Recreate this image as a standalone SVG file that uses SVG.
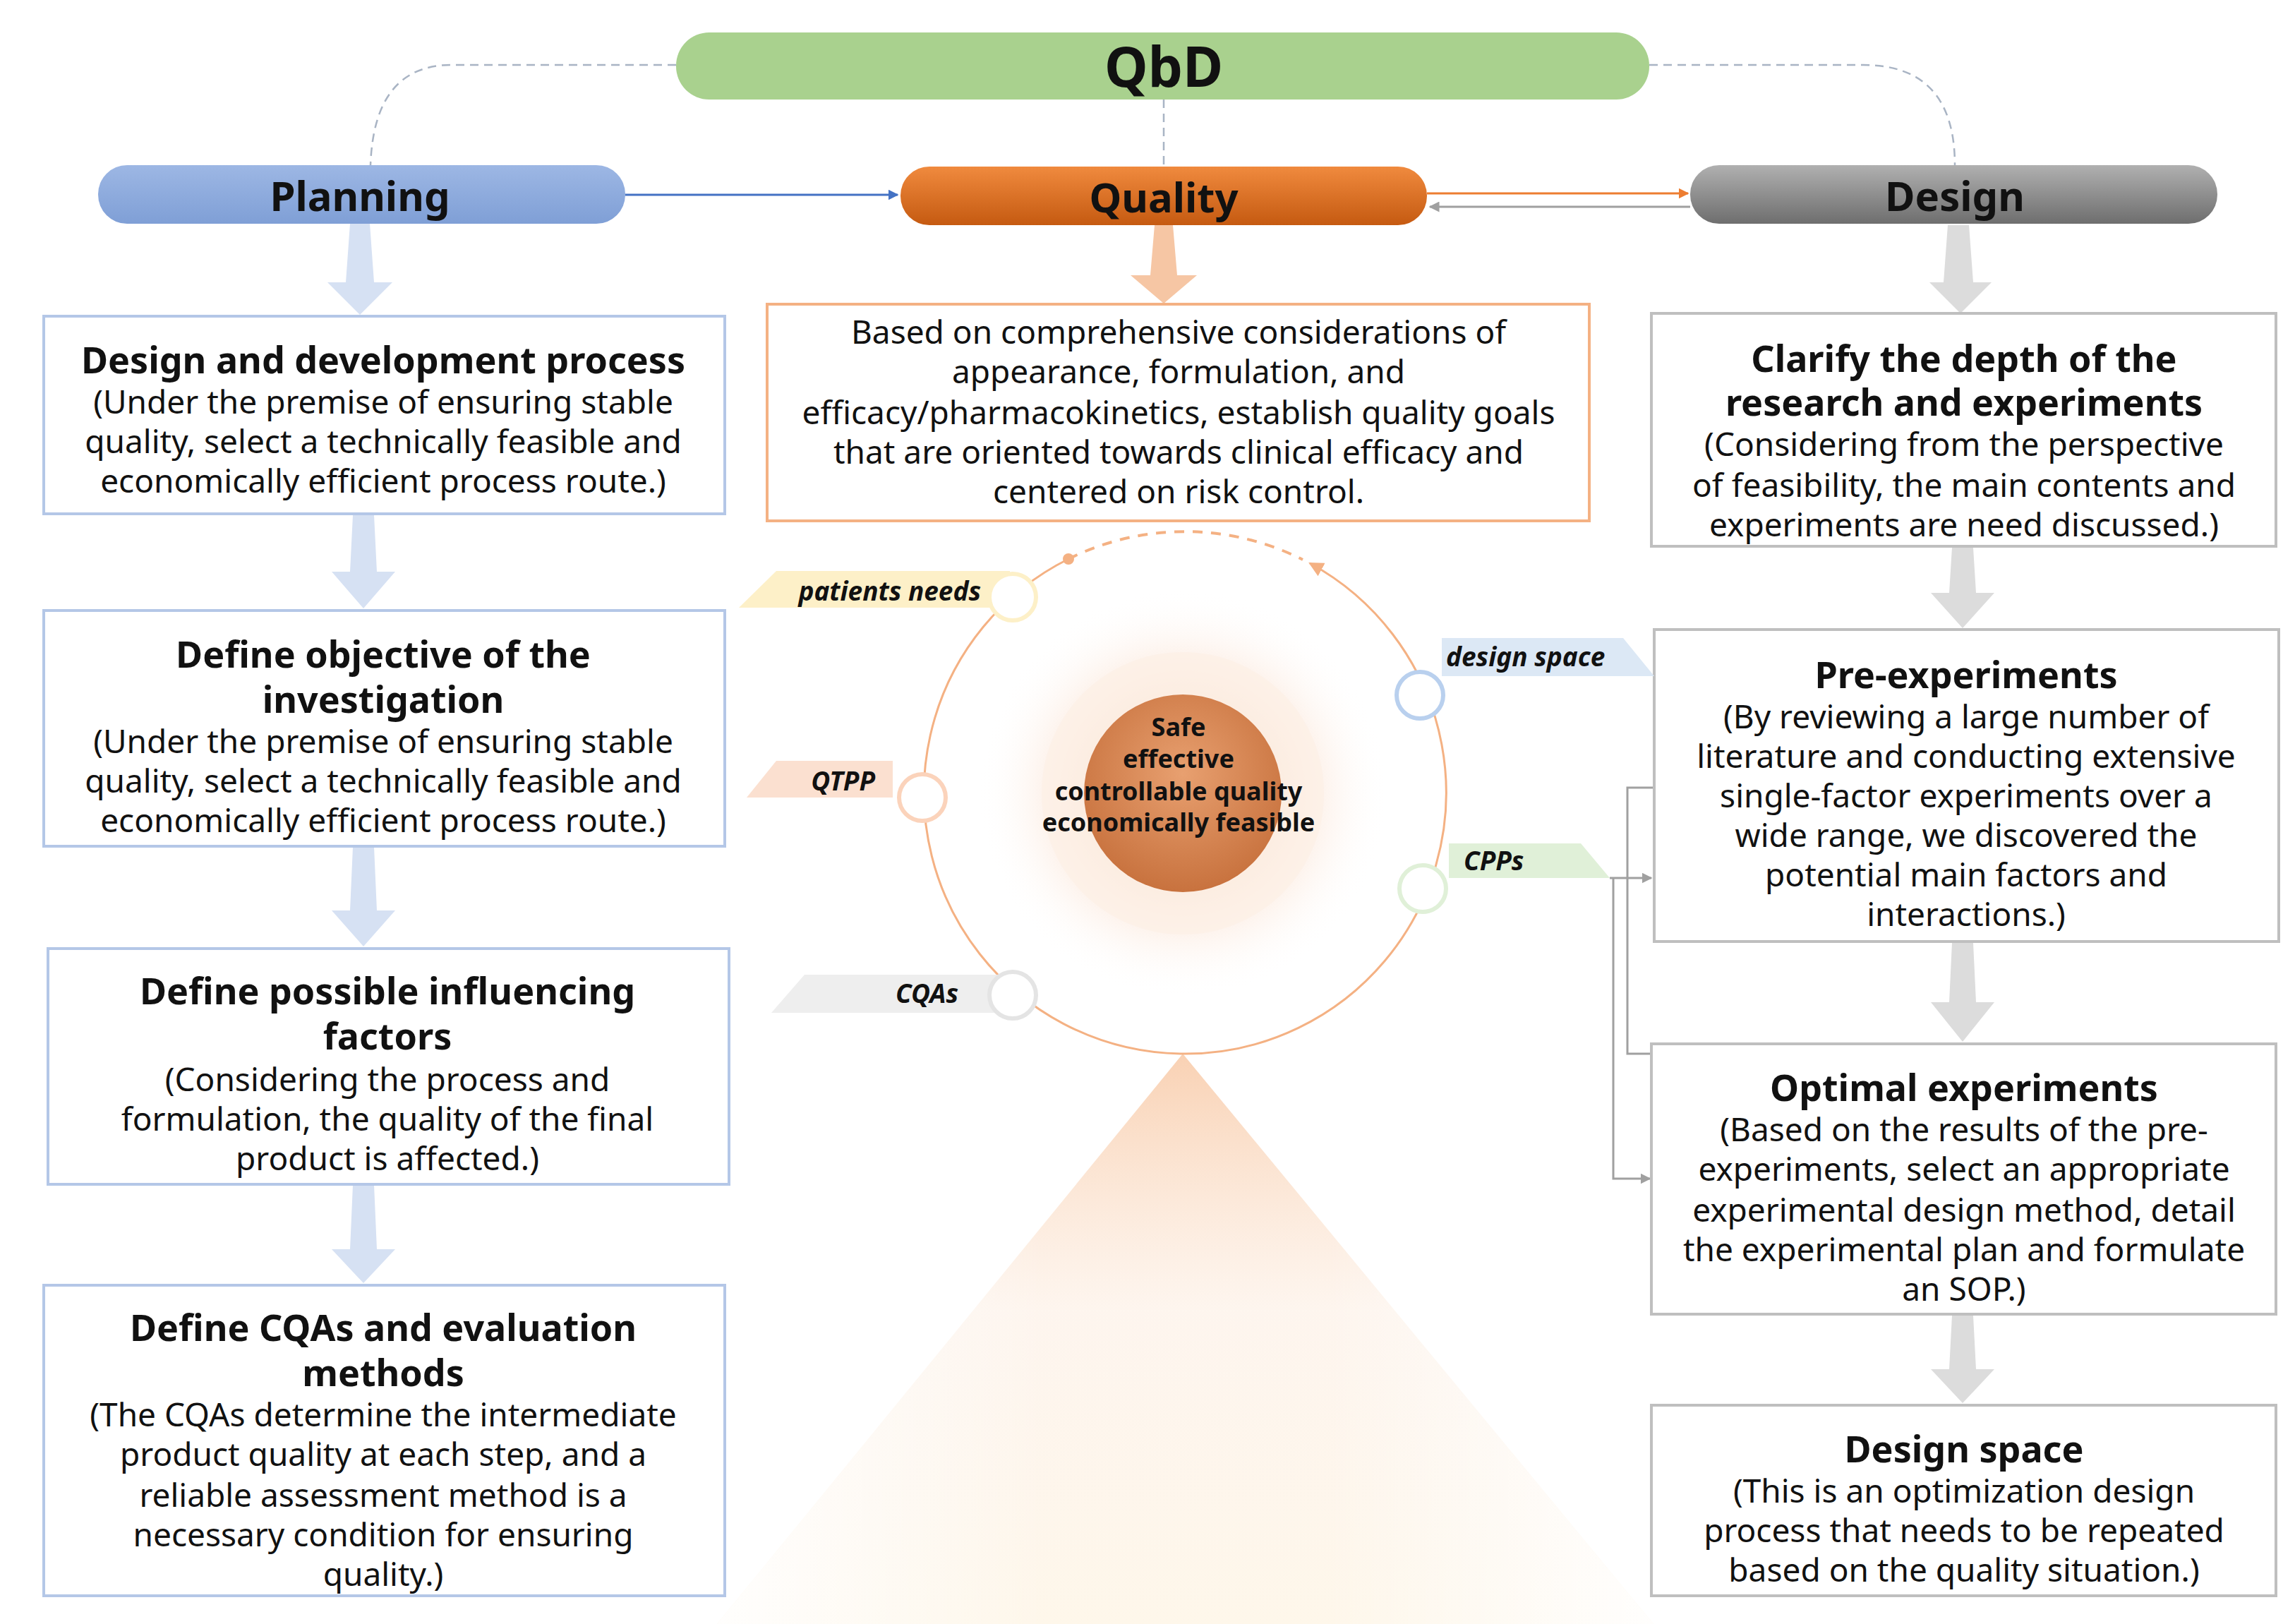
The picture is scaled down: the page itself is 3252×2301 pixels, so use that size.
<svg xmlns="http://www.w3.org/2000/svg" width="3252" height="2301" viewBox="0 0 3252 2301">
<defs>
<style>
text{font-family:"Noto Sans","Open Sans","DejaVu Sans",sans-serif;fill:#111;text-anchor:middle;dominant-baseline:central}
.t{font-size:52px;font-weight:bold}
.b{font-size:46px}
.pill{font-size:58px;font-weight:bold}
.tag{font-size:37px;font-weight:bold;font-style:italic}
.core{font-size:36px;font-weight:bold}
.bl{fill:#fff;stroke:#b4c7e7;stroke-width:4}
.br{fill:#fff;stroke:#bfbfbf;stroke-width:4}
.dash{fill:none;stroke:#a9b4c4;stroke-width:2.5;stroke-dasharray:12 8}
</style>
<linearGradient id="gq" x1="0" y1="0" x2="0" y2="1"><stop offset="0" stop-color="#f08a3e"/><stop offset="1" stop-color="#c55a11"/></linearGradient>
<linearGradient id="gd" x1="0" y1="0" x2="0" y2="1"><stop offset="0" stop-color="#b0b0b0"/><stop offset="1" stop-color="#6e6e6e"/></linearGradient>
<linearGradient id="gp" x1="0" y1="0" x2="0" y2="1"><stop offset="0" stop-color="#9db7e4"/><stop offset="1" stop-color="#7f9fd6"/></linearGradient>
<linearGradient id="tri" x1="0" y1="0" x2="0" y2="1"><stop offset="0" stop-color="#f8c9a6" stop-opacity="0.85"/><stop offset="0.45" stop-color="#fbe3cf" stop-opacity="0.35"/><stop offset="1" stop-color="#fdefd6" stop-opacity="0.5"/></linearGradient>
<linearGradient id="triH" x1="0" y1="0" x2="1" y2="0"><stop offset="0" stop-color="#fff" stop-opacity="0.9"/><stop offset="0.35" stop-color="#fff" stop-opacity="0"/><stop offset="0.65" stop-color="#fff" stop-opacity="0"/><stop offset="1" stop-color="#fff" stop-opacity="0.9"/></linearGradient>
<radialGradient id="core" cx="0.5" cy="0.4" r="0.6"><stop offset="0" stop-color="#e8a070"/><stop offset="1" stop-color="#c8723e"/></radialGradient>
<radialGradient id="glow"><stop offset="0.5" stop-color="#f9d6bf" stop-opacity="0.7"/><stop offset="1" stop-color="#fff" stop-opacity="0"/></radialGradient>
<marker id="ab" viewBox="0 0 10 10" refX="9" refY="5" markerWidth="5" markerHeight="5" orient="auto"><path d="M0,0L10,5L0,10z" fill="#4472c4"/></marker>
<marker id="ao" viewBox="0 0 10 10" refX="9" refY="5" markerWidth="5" markerHeight="5" orient="auto"><path d="M0,0L10,5L0,10z" fill="#ed7d31"/></marker>
<marker id="ag" viewBox="0 0 10 10" refX="9" refY="5" markerWidth="5" markerHeight="5" orient="auto"><path d="M0,0L10,5L0,10z" fill="#a0a0a0"/></marker>
<marker id="ar" viewBox="0 0 10 10" refX="9" refY="5" markerWidth="7" markerHeight="7" orient="auto"><path d="M0,0L10,5L0,10z" fill="#f4b183"/></marker>
</defs>
<rect width="3252" height="2301" fill="#fff"/>
<polygon points="1676,1493 2343,2301 1016,2301" fill="url(#tri)"/>
<polygon points="1676,1493 2343,2301 1016,2301" fill="url(#triH)"/>
<g id="connectors">
<path class="dash" d="M958,92 H640 Q530,92 525,234"/>
<path class="dash" d="M2337,92 H2640 Q2770,92 2770,234"/>
<path class="dash" d="M1649,141 V236"/>
<path d="M886,276 H1272" stroke="#4472c4" stroke-width="3" marker-end="url(#ab)"/>
<path d="M2022,274 H2392" stroke="#ed7d31" stroke-width="3" marker-end="url(#ao)"/>
<path d="M2395,293 H2026" stroke="#a0a0a0" stroke-width="3" marker-end="url(#ag)"/>
<g fill="#d6e1f3">
<polygon points="496,317 524,317 530,400 556,400 510,446 464,400 490,400"/>
<polygon points="500,730 530,730 534,810 560,810 515,862 470,810 496,810"/>
<polygon points="500,1200 530,1200 534,1290 560,1290 515,1341 470,1290 496,1290"/>
<polygon points="500,1679 530,1679 534,1770 560,1770 515,1818 470,1770 496,1770"/>
</g>
<polygon points="1636,319 1662,319 1668,390 1696,390 1649,430 1602,390 1630,390" fill="#f6c6a4"/>
<g fill="#dcdcdc">
<polygon points="2760,319 2790,319 2796,400 2822,400 2778,444 2734,400 2754,400"/>
<polygon points="2766,776 2796,776 2800,840 2826,840 2781,890 2736,840 2762,840"/>
<polygon points="2766,1336 2796,1336 2800,1420 2826,1420 2781,1476 2736,1420 2762,1420"/>
<polygon points="2766,1864 2796,1864 2800,1940 2826,1940 2781,1988 2736,1940 2762,1940"/>
</g>
<g fill="none" stroke="#a0a0a0" stroke-width="3">
<path d="M2344,1116 H2306 V1493 H2340"/>
<path d="M2281,1244 H2340" marker-end="url(#ag)"/>
<path d="M2286,1244 V1670 H2338" marker-end="url(#ag)"/>
</g>
</g>
<g id="QbD"><rect x="958" y="46" width="1379" height="95" rx="47" fill="#a9d18e"/><text x="1649" y="93" style="font-size:78px;font-weight:bold">QbD</text></g>
<g id="Planning"><rect x="139" y="234" width="747" height="83" rx="41" fill="url(#gp)"/><text class="pill" x="510" y="276">Planning</text></g>
<g id="Quality"><rect x="1276" y="236" width="746" height="83" rx="41" fill="url(#gq)"/><text class="pill" x="1649" y="278">Quality</text></g>
<g id="Design"><rect x="2395" y="234" width="747" height="83" rx="41" fill="url(#gd)"/><text class="pill" x="2770" y="276">Design</text></g>
<g id="box-l1"><rect class="bl" x="62" y="448" width="965" height="280"/>
<text class="t" x="543" y="508">Design and development process</text>
<text class="b" x="543" y="568">(Under the premise of ensuring stable</text>
<text class="b" x="543" y="624">quality, select a technically feasible and</text>
<text class="b" x="543" y="680">economically efficient process route.)</text></g>
<g id="box-l2"><rect class="bl" x="62" y="865" width="965" height="334"/>
<text class="t" x="543" y="925">Define objective of the</text>
<text class="t" x="543" y="989">investigation</text>
<text class="b" x="543" y="1049">(Under the premise of ensuring stable</text>
<text class="b" x="543" y="1105">quality, select a technically feasible and</text>
<text class="b" x="543" y="1161">economically efficient process route.)</text></g>
<g id="box-l3"><rect class="bl" x="68" y="1344" width="965" height="334"/>
<text class="t" x="549" y="1402">Define possible influencing</text>
<text class="t" x="549" y="1466">factors</text>
<text class="b" x="549" y="1528">(Considering the process and</text>
<text class="b" x="549" y="1584">formulation, the quality of the final</text>
<text class="b" x="549" y="1640">product is affected.)</text></g>
<g id="box-l4"><rect class="bl" x="62" y="1821" width="965" height="440"/>
<text class="t" x="543" y="1879">Define CQAs and evaluation</text>
<text class="t" x="543" y="1943">methods</text>
<text class="b" x="543" y="2003">(The CQAs determine the intermediate</text>
<text class="b" x="543" y="2059">product quality at each step, and a</text>
<text class="b" x="543" y="2117">reliable assessment method is a</text>
<text class="b" x="543" y="2173">necessary condition for ensuring</text>
<text class="b" x="543" y="2229">quality.)</text></g>
<g id="box-c"><rect x="1087" y="431" width="1165" height="307" fill="#fff" stroke="#f4b183" stroke-width="4"/>
<text class="b" x="1670" y="469">Based on comprehensive considerations of</text>
<text class="b" x="1670" y="525">appearance, formulation, and</text>
<text class="b" x="1670" y="583">efficacy/pharmacokinetics, establish quality goals</text>
<text class="b" x="1670" y="639">that are oriented towards clinical efficacy and</text>
<text class="b" x="1670" y="695">centered on risk control.</text></g>
<g id="box-r1"><rect class="br" x="2340" y="444" width="885" height="330"/>
<text class="t" x="2783" y="506">Clarify the depth of the</text>
<text class="t" x="2783" y="568">research and experiments</text>
<text class="b" x="2783" y="628">(Considering from the perspective</text>
<text class="b" x="2783" y="686">of feasibility, the main contents and</text>
<text class="b" x="2783" y="742">experiments are need discussed.)</text></g>
<g id="box-r2"><rect class="br" x="2344" y="892" width="885" height="442"/>
<text class="t" x="2786" y="954">Pre-experiments</text>
<text class="b" x="2786" y="1014">(By reviewing a large number of</text>
<text class="b" x="2786" y="1070">literature and conducting extensive</text>
<text class="b" x="2786" y="1126">single-factor experiments over a</text>
<text class="b" x="2786" y="1182">wide range, we discovered the</text>
<text class="b" x="2786" y="1238">potential main factors and</text>
<text class="b" x="2786" y="1294">interactions.)</text></g>
<g id="box-r3"><rect class="br" x="2340" y="1479" width="885" height="383"/>
<text class="t" x="2783" y="1539">Optimal experiments</text>
<text class="b" x="2783" y="1599">(Based on the results of the pre-</text>
<text class="b" x="2783" y="1655">experiments, select an appropriate</text>
<text class="b" x="2783" y="1713">experimental design method, detail</text>
<text class="b" x="2783" y="1769">the experimental plan and formulate</text>
<text class="b" x="2783" y="1825">an SOP.)</text></g>
<g id="box-r4"><rect class="br" x="2340" y="1991" width="885" height="270"/>
<text class="t" x="2783" y="2051">Design space</text>
<text class="b" x="2783" y="2111">(This is an optimization design</text>
<text class="b" x="2783" y="2167">process that needs to be repeated</text>
<text class="b" x="2783" y="2223">based on the quality situation.)</text></g>
<g id="cycle">
<path d="M1514,792 A370,370 0 1 0 1856,798" fill="none" stroke="#f4b183" stroke-width="3" marker-end="url(#ar)"/>
<path d="M1514,792 A370,370 0 0 1 1846,793" fill="none" stroke="#f4b183" stroke-width="4" stroke-dasharray="14 12"/>
<circle cx="1514" cy="792" r="8" fill="#f4b183"/>
<circle cx="1676" cy="1124" r="290" fill="url(#glow)"/>
<circle cx="1676" cy="1124" r="200" fill="#fdf0e6" opacity="0.8"/>
<circle cx="1676" cy="1124" r="140" fill="url(#core)"/>
<text class="core" x="1670" y="1029">Safe</text>
<text class="core" x="1670" y="1074">effective</text>
<text class="core" x="1670" y="1120">controllable quality</text>
<text class="core" x="1670" y="1164">economically feasible</text>
</g>
<g id="tag-patients"><polygon points="1100,809 1431,809 1431,861 1047,861" fill="#fdf0c8"/><text class="tag" x="1390" y="836" style="text-anchor:end">patients needs</text><circle cx="1435" cy="846" r="33" fill="#fff" stroke="#fdf0c8" stroke-width="6"/></g>
<g id="tag-qtpp"><polygon points="1100,1078 1265,1078 1265,1130 1058,1130" fill="#fbe0d0"/><text class="tag" x="1240" y="1105" style="text-anchor:end">QTPP</text><circle cx="1307" cy="1130" r="33" fill="#fff" stroke="#fbd3bb" stroke-width="6"/></g>
<g id="tag-cqas"><polygon points="1140,1381 1431,1381 1431,1435 1093,1435" fill="#eeeeee"/><text class="tag" x="1358" y="1406" style="text-anchor:end">CQAs</text><circle cx="1435" cy="1410" r="33" fill="#fff" stroke="#e4e4e4" stroke-width="6"/></g>
<g id="tag-ds"><polygon points="2043,904 2300,904 2344,958 2043,958" fill="#dce8f5"/><text class="tag" x="2049" y="929" style="text-anchor:start">design space</text><circle cx="2012" cy="985" r="33" fill="#fff" stroke="#b9d0ee" stroke-width="6"/></g>
<g id="tag-cpps"><polygon points="2053,1195 2240,1195 2281,1244 2053,1244" fill="#e0f0d8"/><text class="tag" x="2074" y="1218" style="text-anchor:start">CPPs</text><circle cx="2016" cy="1259" r="33" fill="#fff" stroke="#e0f0d8" stroke-width="6"/></g>
</svg>
